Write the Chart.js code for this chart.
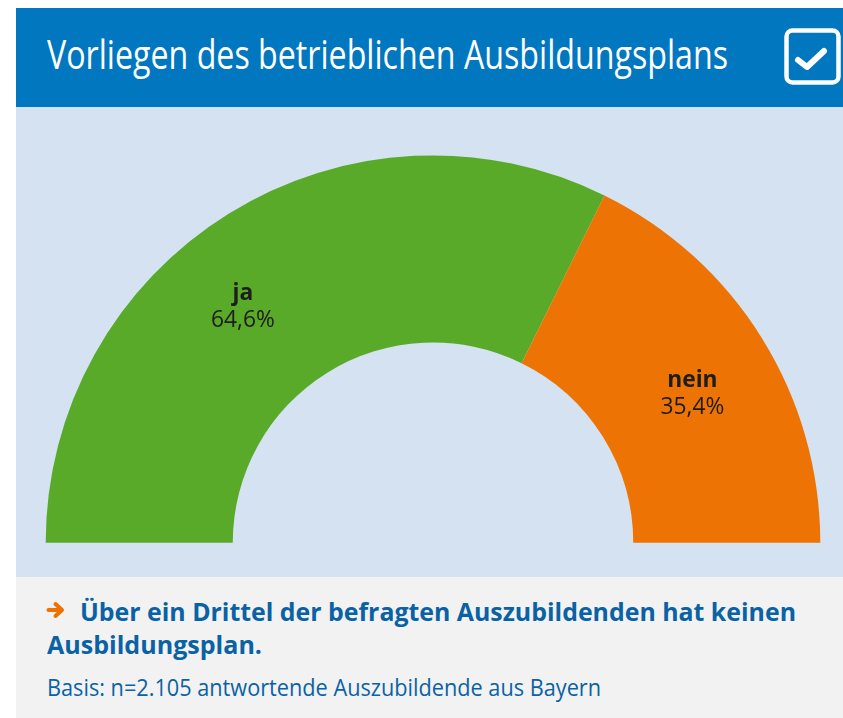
<!DOCTYPE html>
<html lang="de">
<head>
<meta charset="utf-8">
<script src="https://cdn.jsdelivr.net/npm/chart.js@4.4.1/dist/chart.umd.min.js"></script>
<style>
  html, body { margin: 0; padding: 0; background: #ffffff; }
  body { width: 843px; height: 718px; position: relative; overflow: hidden; font-family: "Open Sans", sans-serif; }
  .header { position: absolute; left: 16px; top: 8px; width: 827px; height: 99px; background: #0077bf; }
  .panel { position: absolute; left: 16px; top: 107px; width: 827px; height: 470px; background: #d4e2f2; }
  .footer { position: absolute; left: 16px; top: 577px; width: 827px; height: 141px; background: #f2f2f2; }
  .txt { position: absolute; white-space: nowrap; line-height: 1; transform-origin: 0 0; display: inline-block; }
  .title { left: 47px; top: 34px; font-size: 40px; color: #ffffff; font-weight: 400; }
  .lead { font-size: 25px; font-weight: 700; color: #0a62a4; }
  .basis { left: 47px; top: 675px; font-size: 24px; color: #0a62a4; }
  #chartBox { position: absolute; left: 16px; top: 107px; width: 827px; height: 470px; }
  .icon { position: absolute; left: 782px; top: 26px; }
  .arrow { position: absolute; left: 46px; top: 601px; }
</style>
</head>
<body>
<div class="header"></div>
<div class="panel"></div>
<div class="footer"></div>

<span class="txt title" data-fit="681">Vorliegen des betrieblichen Ausbildungsplans</span>
<svg class="icon" width="61" height="61" viewBox="0 0 61 61">
  <rect x="4.5" y="4.5" width="52" height="52" rx="6" ry="6" fill="none" stroke="#ffffff" stroke-width="4.5"/>
  <polyline points="16,34 25,41 42,25" fill="none" stroke="#ffffff" stroke-width="6" stroke-linecap="round" stroke-linejoin="round"/>
</svg>

<div id="chartBox"><canvas id="myChart"></canvas></div>

<svg class="arrow" width="20" height="18" viewBox="0 0 20 18">
  <line x1="2.5" y1="9" x2="14" y2="9" stroke="#ee7203" stroke-width="4" stroke-linecap="round"/>
  <polyline points="9.5,3 16,9 9.5,15" fill="none" stroke="#ee7203" stroke-width="4" stroke-linecap="round" stroke-linejoin="round"/>
</svg>
<span class="txt lead" style="left:80px; top:599px;" data-fit="716">Über ein Drittel der befragten Auszubildenden hat keinen</span>
<span class="txt lead" style="left:47px; top:632px;" data-fit="215">Ausbildungsplan.</span>
<span class="txt basis" data-fit="554">Basis: n=2.105 antwortende Auszubildende aus Bayern</span>

<script>
// Chart data
const categories = ['ja', 'nein'];
const shares = [64.6, 35.4];
const shareLabels = ['64,6%', '35,4%'];
const sliceColors = ['#5aaa29', '#ed7404'];

// Squeeze the Open Sans text to the width of the condensed original
document.querySelectorAll('[data-fit]').forEach(function(el) {
    const target = parseFloat(el.dataset.fit);
    const natural = el.getBoundingClientRect().width;
    el.style.transform = 'scaleX(' + (target / natural) + ')';
});

// Where the labels sit inside each arc (fraction of the angle / of the ring thickness)
const labelPlacement = [
    { angle: 0.44, ring: 0.55 },
    { angle: 0.53, ring: 0.53 }
];

const sliceLabels = {
    id: 'sliceLabels',
    afterDatasetsDraw(chart) {
        const ctx = chart.ctx;
        const arcs = chart.getDatasetMeta(0).data;
        arcs.forEach(function(arc, i) {
            const p = arc.getProps(['x', 'y', 'startAngle', 'endAngle', 'innerRadius', 'outerRadius'], true);
            const place = labelPlacement[i];
            const a = p.startAngle + (p.endAngle - p.startAngle) * place.angle;
            const r = p.innerRadius + (p.outerRadius - p.innerRadius) * place.ring;
            const x = p.x + Math.cos(a) * r;
            const y = p.y + Math.sin(a) * r;
            ctx.save();
            ctx.translate(x, y);
            ctx.scale(0.95, 1);
            ctx.fillStyle = '#1d1d1b';
            ctx.textAlign = 'center';
            ctx.textBaseline = 'middle';
            ctx.font = '700 24px "Open Sans"';
            ctx.fillText(categories[i], 0, -13);
            ctx.font = '400 24px "Open Sans"';
            ctx.fillText(shareLabels[i], 0, 14);
            ctx.restore();
        });
    }
};

const ctx = document.getElementById('myChart').getContext('2d');
const myChart = new Chart(ctx, {
    type: 'doughnut',
    data: {
        labels: categories,
        datasets: [{
            data: shares,
            backgroundColor: sliceColors,
            borderWidth: 0,
            hoverBorderWidth: 0,
            hoverOffset: 0,
            offset: 0
        }]
    },
    options: {
        responsive: true,
        maintainAspectRatio: false,
        animation: false,
        rotation: -90,
        circumference: 180,
        cutout: '51.7%',
        layout: {
            padding: { left: 29.7, right: 22.7, top: 48.4, bottom: 34.3 }
        },
        events: [],
        plugins: {
            legend: { display: false },
            tooltip: { enabled: false },
            title: { display: false }
        }
    },
    plugins: [sliceLabels]
});
</script>
</body>
</html>
